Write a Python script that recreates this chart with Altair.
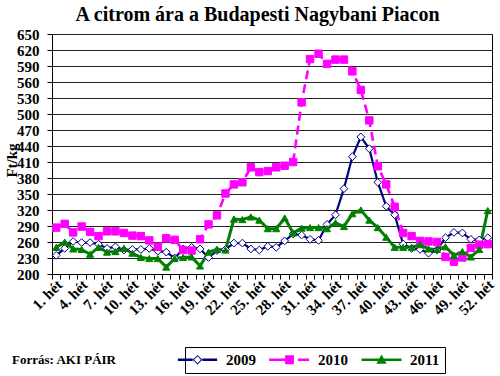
import altair as alt
import pandas as pd

FONT = "Liberation Serif"

weeks = list(range(1, 53))
y2009 = [235, 248, 261, 259, 259, 256, 248, 251, 245, 246, 246, 248, 243, 241, 230, 247,
         250, 247, 231, 244, 246, 258, 258, 247, 245, 252, 250, 262, 275, 273, 265, 263,
         293, 311, 360, 420, 457, 435, 372, 327, 311, 256, 248, 246, 239, 245, 268, 278,
         277, 265, 264, 268]
y2010 = [287, 294, 278, 289, 279, 271, 280, 280, 277, 272, 271, 263, 251, 267, 264, 245,
         244, 265, 293, 310, 351, 368, 372, 400, 391, 393, 400, 403, 410, 522, 603, 613,
         594, 602, 602, 580, 545, 488, 402, 368, 326, 277, 271, 262, 261, 260, 232, 223,
         231, 249, 255, 256]
y2011 = [250, 260, 247, 246, 237, 250, 241, 242, 248, 239, 231, 229, 229, 213, 229, 231,
         232, 215, 241, 246, 245, 303, 302, 307, 301, 285, 285, 305, 277, 286, 287, 287,
         285, 296, 289, 313, 320, 301, 287, 269, 250, 250, 250, 255, 247, 246, 251, 235,
         242, 232, 246, 319]

series_names = ["2009", "2010", "2011"]
series_colors = ["#000080", "#FF00FF", "#008000"]
marker_shapes = ["diamond", "square", "triangle-up"]
marker_fills = ["#FFFFFF", "#FF00FF", "#008000"]
marker_sizes = [60, 50, 70]
line_widths = [2.2, 3, 2.5]
dashes = [[1, 0], [9, 5], [1, 0]]
y_ticks = list(range(200, 651, 30))
title_text = "A citrom ára a Budapesti Nagybani Piacon"
y_title = "Ft/kg"
week_suffix = ". hét"
source_text = ["Forrás: AKI PÁIR"]

legend_paths = [
    "M-7.75,0 M-4.9,-0.3L-1.2,-0.3L-1.2,0.3L-4.9,0.3Z M1.2,-0.3L4.9,-0.3L4.9,0.3L1.2,0.3Z "
    "M0,-1.2L1.2,0L0,1.2L-1.2,0Z M0,-0.85L-0.85,0L0,0.85L0.85,0Z M14.5,0",
    "M-5.1,-0.3L-1.1,-0.3L-1.1,0.3L-5.1,0.3Z M-1.1,-1.1L1.1,-1.1L1.1,1.1L-1.1,1.1Z "
    "M2.1,-0.3L4.9,-0.3L4.9,0.3L2.1,0.3Z M14.5,0",
    "M-5,-0.3L5,-0.3L5,0.3L-5,0.3Z M0,-1.3L1.3,1L-1.3,1Z M13.5,0",
]

rows = []
for name, vals in zip(series_names, [y2009, y2010, y2011]):
    for w, v in zip(weeks, vals):
        rows.append({"week": w, "value": v, "series": name})
df = pd.DataFrame(rows)

x_enc = alt.X(
    "week:O",
    scale=alt.Scale(type="band", paddingInner=0, paddingOuter=0),
    axis=alt.Axis(
        title=None,
        labelExpr=f"(datum.value - 1) % 3 == 0 ? datum.value + '{week_suffix}' : ''",
        labelAngle=-45, labelAlign="right", labelBaseline="middle",
        labelFont=FONT, labelFontWeight="bold", labelFontSize=15, labelColor="black",
        labelOverlap=False, labelPadding=3, labelOffset=3,
        tickBand="extent", tickSize=5, tickColor="black", domainColor="black",
        grid=False,
    ),
)
y_enc = alt.Y(
    "value:Q",
    scale=alt.Scale(domain=[200, 650], nice=False, zero=False),
    axis=alt.Axis(
        values=y_ticks, title=y_title,
        titleFont=FONT, titleFontWeight="bold", titleFontSize=15, titleColor="black",
        titleAngle=-90, titleX=-41, titleY=126, titleAlign="center", titleBaseline="middle",
        labelFont=FONT, labelFontWeight="bold", labelFontSize=15, labelColor="black",
        labelPadding=8, tickSize=5, tickColor="black", domainColor="black",
        grid=True, gridColor="#222222", gridWidth=1,
    ),
)

base = alt.Chart(df)

lines = base.mark_line().encode(
    x=x_enc, y=y_enc,
    color=alt.Color("series:N", scale=alt.Scale(domain=series_names, range=series_colors), legend=None),
    strokeDash=alt.StrokeDash("series:N", scale=alt.Scale(domain=series_names, range=dashes), legend=None),
    strokeWidth=alt.StrokeWidth("series:N", scale=alt.Scale(domain=series_names, range=line_widths), legend=None),
)

points = base.mark_point(opacity=1, strokeWidth=1).encode(
    x=x_enc, y=y_enc,
    shape=alt.Shape("series:N", scale=alt.Scale(domain=series_names, range=marker_shapes), legend=None),
    fill=alt.Fill("series:N", scale=alt.Scale(domain=series_names, range=marker_fills), legend=None),
    stroke=alt.Stroke("series:N", scale=alt.Scale(domain=series_names, range=series_colors), legend=None),
    size=alt.Size("series:N", scale=alt.Scale(domain=series_names, range=marker_sizes), legend=None),
)

leg = alt.Legend(
    title=None, orient="none", legendX=133, legendY=313, direction="horizontal",
    symbolSize=64, symbolStrokeWidth=0, symbolOpacity=1,
    labelFont=FONT, labelFontWeight="bold", labelFontSize=15, labelColor="black",
    labelOffset=21, columnPadding=13, padding=5,
    strokeColor="black", fillColor="white",
)
legend_layer = base.transform_filter("datum.value < 0").mark_point(filled=True, opacity=1).encode(
    x=x_enc, y=y_enc,
    shape=alt.Shape("series:N", scale=alt.Scale(domain=series_names, range=legend_paths), legend=leg),
    fill=alt.Fill("series:N", scale=alt.Scale(domain=series_names, range=series_colors), legend=leg),
)

source = alt.Chart(alt.Data(values=[{"t": t} for t in source_text])).mark_text(
    align="left", baseline="alphabetic", font=FONT, fontWeight="bold", fontSize=13, color="black"
).encode(x=alt.value(-40), y=alt.value(330), text="t:N")

chart = alt.layer(lines, points, legend_layer, source).resolve_scale(
    shape="independent", fill="independent", stroke="independent",
    color="independent", strokeDash="independent", size="independent", strokeWidth="independent",
).properties(
    width=440, height=240,
    title=alt.TitleParams(
        text=title_text, font=FONT, fontSize=20, fontWeight="bold", color="black",
        anchor="middle", dx=-14.5, dy=21, offset=7, baseline="alphabetic",
    ),
    autosize=alt.AutoSizeParams(type="none"),
    padding={"left": 52, "top": 34, "right": 8, "bottom": 102},
    background="white",
).configure_view(stroke="black", strokeWidth=1)

chart.save("out.html", embed_options={"renderer": "svg", "actions": False})
